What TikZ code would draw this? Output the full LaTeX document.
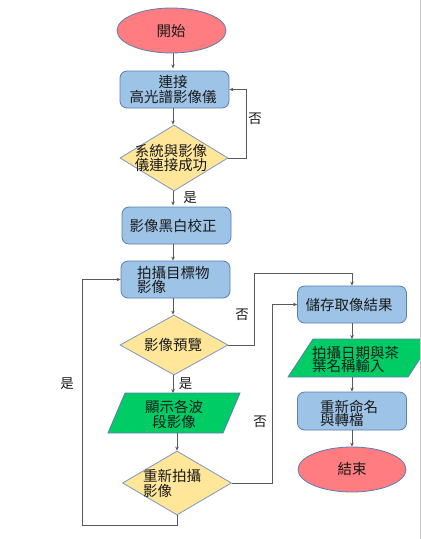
\documentclass[tikz,border=0pt]{standalone}
\usepackage{fontspec}
\newfontfamily\cjk{Noto Sans CJK TC}
\usetikzlibrary{shapes.geometric,arrows.meta,calc}
\definecolor{pinkfill}{HTML}{FF7C80}
\definecolor{boxfill}{HTML}{9DC3E6}
\definecolor{diafill}{HTML}{FFE699}
\definecolor{grnfill}{HTML}{00CC66}
\definecolor{edgeblue}{HTML}{5B7DB5}
\definecolor{linegray}{HTML}{595959}
\definecolor{txt}{HTML}{1A1A1A}
\tikzset{
  txtstyle/.style={font=\cjk\fontsize{14.5pt}{15pt}\selectfont, text=txt, inner sep=0pt, align=center},
  tightstyle/.style={font=\cjk\fontsize{14.5pt}{12.5pt}\selectfont, text=txt, inner sep=0pt, align=center},
  lefttxt/.style={font=\cjk\fontsize{14.5pt}{13.5pt}\selectfont, text=txt, inner sep=0pt, align=left, anchor=west},
  lbl/.style={font=\cjk\fontsize{13.5pt}{14pt}\selectfont, text=txt, inner sep=0pt},
  ellbox/.style={ellipse, draw=edgeblue, fill=pinkfill, line width=0.8pt, minimum width=109pt, minimum height=45pt, inner sep=0pt},
  procbox/.style={rectangle, rounded corners=7pt, draw=edgeblue, fill=boxfill, line width=0.8pt, minimum width=109pt, minimum height=37pt, inner sep=0pt},
  decbox/.style={diamond, draw=edgeblue!80, fill=diafill, line width=0.8pt, minimum width=108pt, minimum height=66pt, inner sep=0pt},
  ioshape/.style={draw=edgeblue, fill=grnfill, line width=0.8pt},
  arr/.style={draw=linegray, line width=0.8pt, -{Stealth[length=4pt,width=3.5pt]}},
}
\begin{document}
\begin{tikzpicture}[x=1pt,y=-1pt]
\useasboundingbox (0,0) rectangle (421,539);
\fill[white] (0,0) rectangle (421,539);

% shapes
\node[ellbox] (start) at (171.5,30.5) {};
\node[procbox] (b1) at (174.5,89.5) {};
\node[decbox] (d1) at (174,158) {};
\node[procbox] (b2) at (176.5,225.5) {};
\node[procbox] (b3) at (175.5,279.5) {};
\node[decbox, minimum height=60pt] (d2) at (174,345) {};
\node[procbox] (b4) at (352,304.5) {};
\node[procbox, minimum height=38pt] (b5) at (352,411) {};
\node[ellbox, minimum width=108pt] (end) at (352,469.5) {};
\node[decbox, minimum width=109pt, minimum height=64pt] (d3) at (177,483) {};

% parallelograms
\begin{scope}
\clip (0,0) rectangle (420,539);
\draw[ioshape] (313,339) -- (433,339) -- (408,377) -- (288,377) -- cycle;
\end{scope}
\coordinate (p1top) at (352,339);
\coordinate (p1bot) at (352,377);
\draw[ioshape] (125,393) -- (240,393) -- (223,433) -- (108,433) -- cycle;
\coordinate (p2top) at (173,393);
\coordinate (p2bot) at (177,433);

% texts
\node[txtstyle] (tstart) at (171,31) {開始};
\node[txtstyle] (tb1) at (173,89) {連接\\高光譜影像儀};
\node[tightstyle] (td1) at (171,158) {系統與影像\\儀連接成功};
\node[txtstyle] (tb2) at (173,225.5) {影像黑白校正};
\node[lefttxt] (tb3) at (137,280) {拍攝目標物\\影像};
\node[txtstyle] (td2) at (173,345) {影像預覽};
\node[txtstyle] (tb4) at (349,304.5) {儲存取像結果};
\node[lefttxt] (tp1) at (312,359.5) {拍攝日期與茶\\葉名稱輸入};
\node[txtstyle] (tp2) at (174,414.5) {顯示各波\\段影像};
\node[lefttxt, font=\cjk\fontsize{14.5pt}{13pt}\selectfont] (td3) at (143,483.5) {重新拍攝\\影像};
\node[lefttxt] (tb5) at (320,413.5) {重新命名\\與轉檔};
\node[txtstyle] (tend) at (352,468.5) {結束};

% connectors
\draw[arr] (b1.north |- start.south) ++(-1.5,0) -- ++(0,15);
\draw[arr] ([xshift=-1.5pt]b1.south) -- ([xshift=-1.5pt]b1.south |- d1.north);
\draw[arr] (d1.south) ++(-1,0) -- ++(0,14) coordinate (d1b);
\draw[arr] ([xshift=-3.5pt]b2.south) -- ([xshift=-3.5pt]b2.south |- b3.north);
\draw[arr] ([xshift=-2.5pt]b3.south) -- ([xshift=-2.5pt]b3.south |- d2.north);
\draw[arr] (d2.south) ++(-1,0) -- (p2top);
\draw[arr] (p2bot) -- (d3.north);
\draw[arr] (b4.south) -- (p1top);
\draw[arr] (p1bot) -- (b5.north);
\draw[arr] (b5.south) -- (end.north);

\draw[arr] (d1.east) -- ++(18,0) |- (b1.east);
\draw[arr] (d2.east) -- ++(26,0) |- ([yshift=12pt]b4.north) -- (b4.north);
\draw[arr] (d3.south) -- ++(0,10) -| ([xshift=-38pt]b3.west) -- (b3.west);
\draw[arr] (d3.east) -- ++(40,0) |- (b4.west);

% labels
\node[lbl] (l1) at (255,119) {否};
\node[lbl] (l2) at (190,198) {是};
\node[lbl] (l3) at (242,315) {否};
\node[lbl] (l4) at (185.5,384) {是};
\node[lbl] (l5) at (67,384) {是};
\node[lbl] (l6) at (260,422) {否};

% right border
\draw[gray!45, line width=0.8pt] (420,0) -- (420,539);
\end{tikzpicture}
\end{document}
